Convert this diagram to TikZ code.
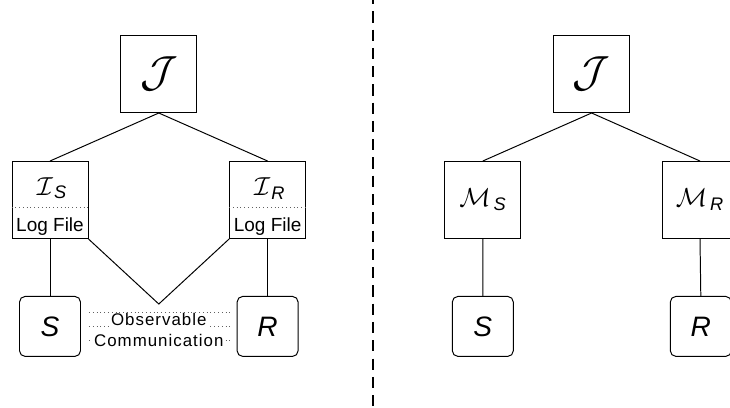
\RequirePackage{fix-cm}
\documentclass[tikz,border=0pt]{standalone}
\usepackage{amsmath,amssymb}
\usepackage{fontspec}
\setmainfont{Liberation Sans}
\usepackage{tikz}
\usetikzlibrary{calc}
\definecolor{ink}{HTML}{000000}
\definecolor{dots}{HTML}{606060}
\tikzset{
  mon/.style={draw=ink, line width=0.7pt, minimum width=1.9cm, minimum height=1.925cm, inner sep=0pt},
  agent/.style={draw=ink, line width=0.7pt, rounded corners=4pt, minimum width=1.525cm, minimum height=1.5cm, inner sep=0pt, font=\fontsize{20}{24}\selectfont\itshape},
  link/.style={draw=ink, line width=0.7pt},
  sep/.style={draw=ink, line width=0.8pt, dash pattern=on 8pt off 5pt, dash phase=5pt},
  logline/.style={draw=dots, dotted, line width=0.7pt},
  lab/.style={inner sep=0pt, font=\fontsize{18.5}{22}\selectfont},
  labj/.style={inner sep=0pt, font=\fontsize{31}{36}\selectfont},
  logtxt/.style={inner sep=0pt, font=\fontsize{13.5}{16}\selectfont},
  obs/.style={fill=white, inner xsep=1pt, inner ysep=0.5pt, font=\fontsize{12}{14}\selectfont\addfontfeature{LetterSpace=6}},
}

\begin{document}
\begin{tikzpicture}
  \useasboundingbox (0,0) rectangle (18.25,-10.175);

  % left: monitors keeping log files
  \node[mon,labj] (J1) at (3.97,-1.85) {$\mathcal{J}$};
  \node[mon] (IS) at (1.25,-5.0) {};
  \node[mon] (IR) at (6.69,-5.0) {};
  \node[agent] (S1) at (1.25,-8.16) {S};
  \node[agent] (R1) at (6.69,-8.16) {R};
  \coordinate (V) at (3.97,-7.6);

  \foreach \n/\a in {IS/S,IR/R} {
    \draw[logline] ($(\n.north west)+(0,-1.15)$) -- ($(\n.north east)+(0,-1.15)$);
    \node[lab] (\n t) at ($(\n.north)+(0.05,-0.68)$) {$\mathcal{I}_{\,\textit{\a}}$};
    \node[logtxt] (\n l) at ($(\n.north)+(0,-1.63)$) {Log File};
  }

  \draw[link] (J1.south) -- (IS.north) (J1.south) -- (IR.north);
  \draw[link] (IS.south) -- (S1.north) (IR.south) -- (R1.north);
  \draw[link] (IS.south east) -- (V) -- (IR.south west);

  % observable channel between S and R
  \foreach \y in {0.36,0,-0.36}
    \draw[logline] ($(S1.east)+(0.2,\y)$) -- ($(R1.west)+(-0.12,\y)$);
  \node[obs] (o1) at ($(S1.east)!0.5!(R1.west)+(0,0.17)$) {Observable};
  \node[obs] (o2) at ($(S1.east)!0.5!(R1.west)+(0,-0.36)$) {Communication};

  % separator
  \coordinate (top) at (9.325,0);
  \coordinate (bot) at (9.325,-10.175);
  \draw[sep] (top) -- (bot);

  % right: monitors only
  \node[mon,labj] (J2) at (14.79,-1.85) {$\mathcal{J}$};
  \node[mon,lab] (MS) at (12.07,-5.0) {$\mathcal{M}_{\,\textit{S}}$};
  \node[mon,lab] (MR) at (17.5,-5.0) {$\mathcal{M}_{\,\textit{R}}$};
  \node[agent] (S2) at (12.07,-8.16) {S};
  \node[agent] (R2) at (17.52,-8.16) {R};

  \draw[link] (J2.south) -- (MS.north) (J2.south) -- (MR.north);
  \draw[link] (MS.south) -- (S2.north) (MR.south) -- (R2.north);
\end{tikzpicture}
\end{document}
